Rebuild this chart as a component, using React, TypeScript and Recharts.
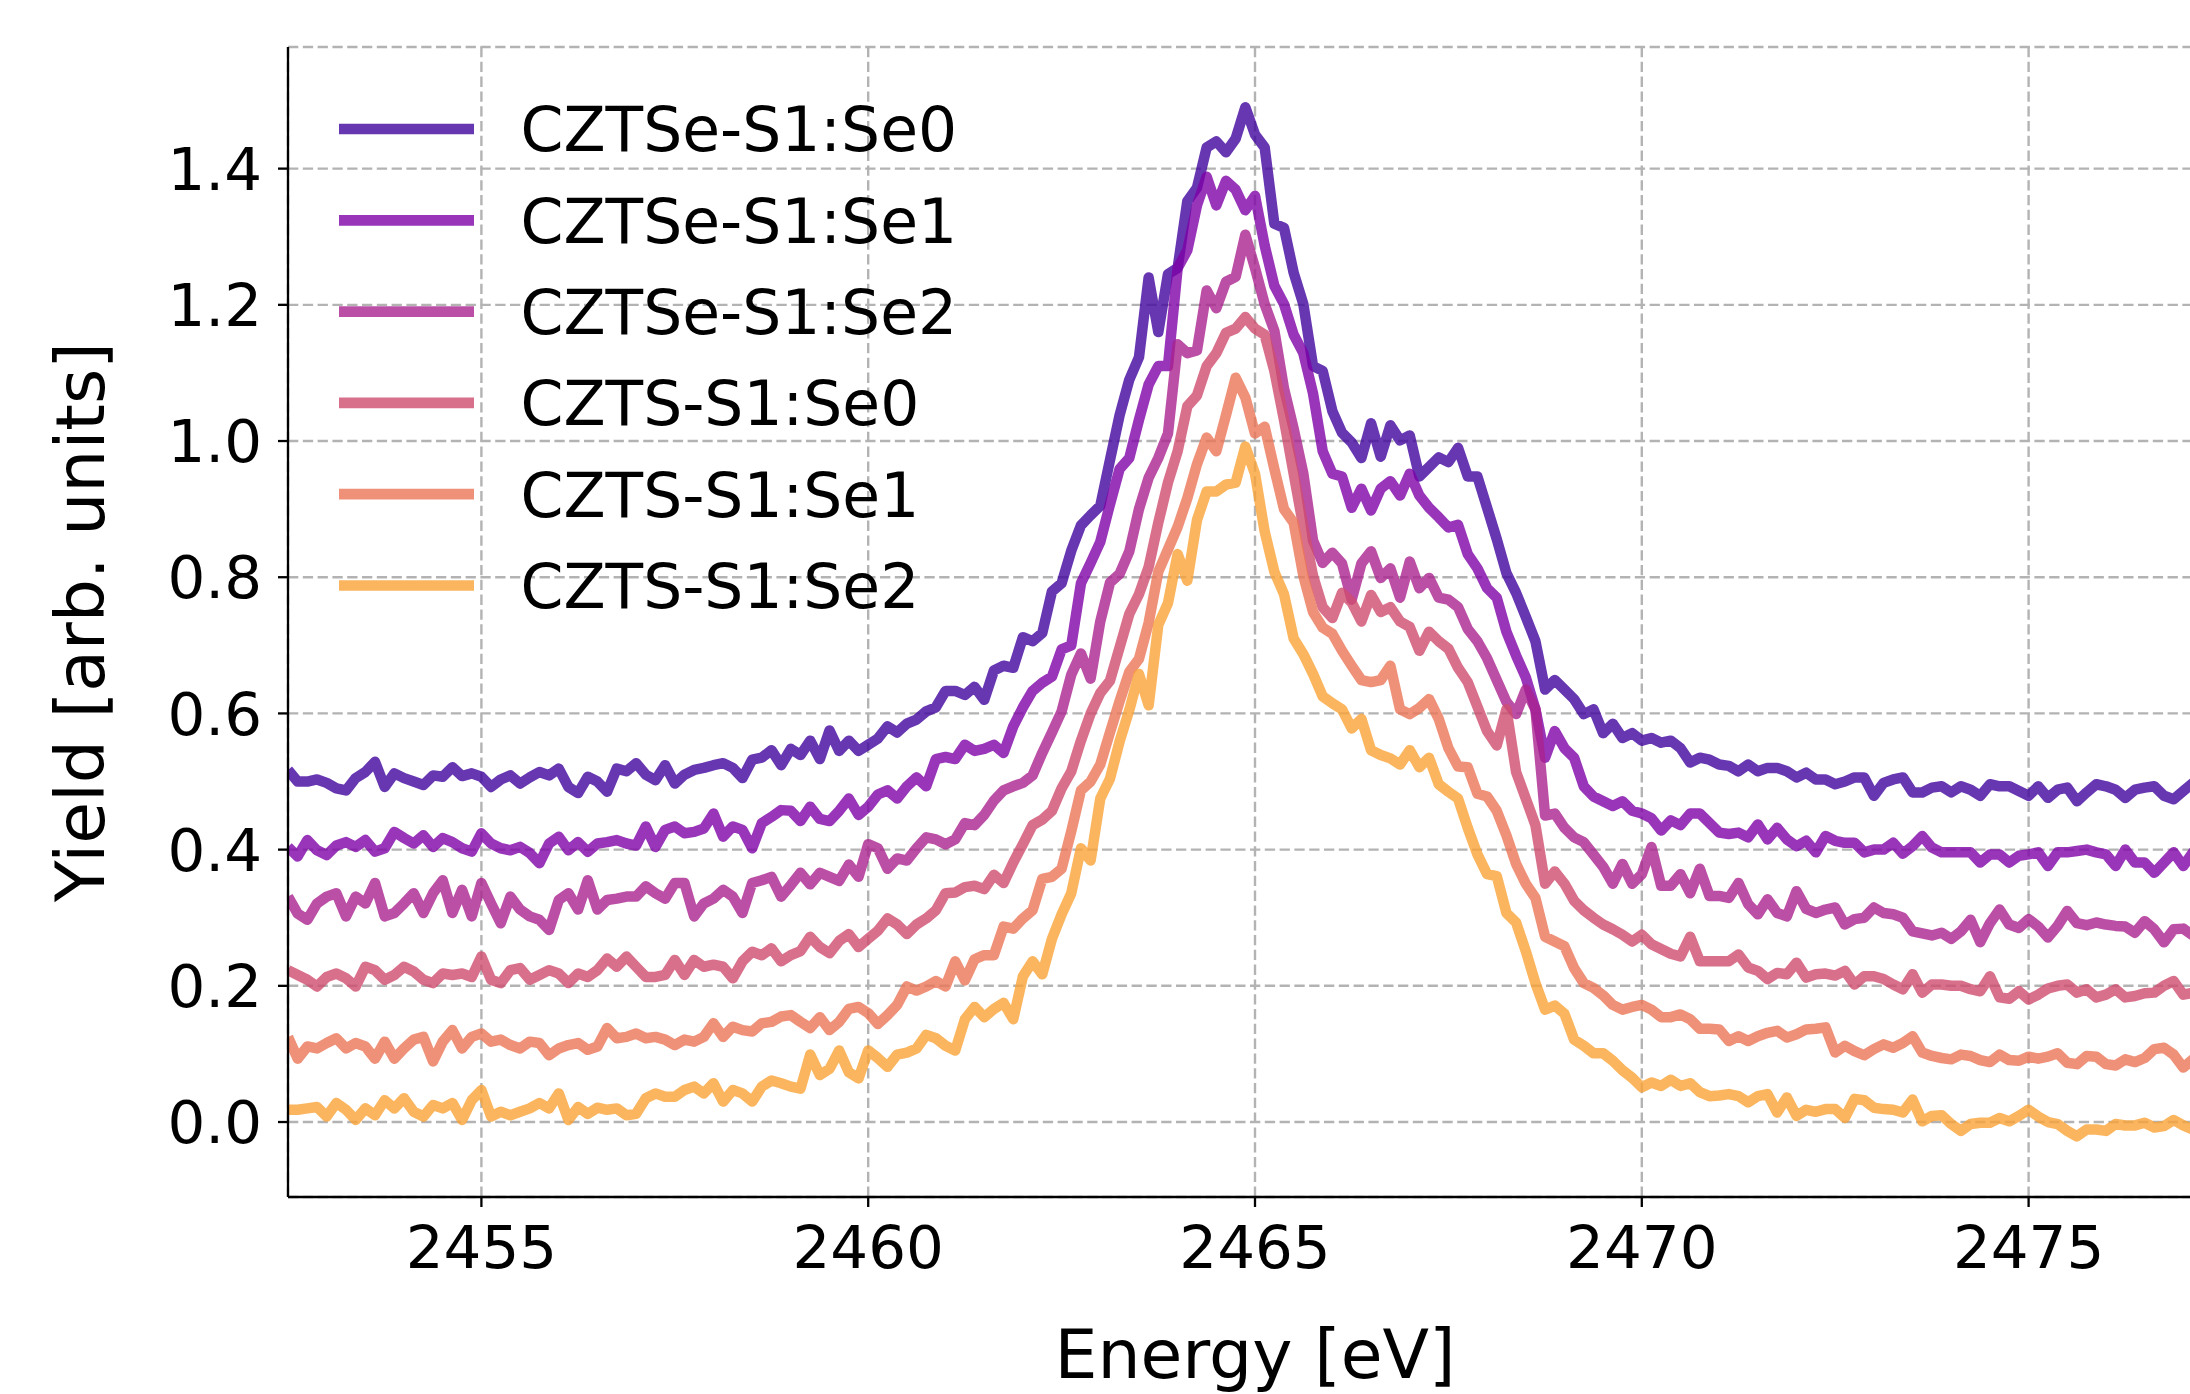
import React from 'react';
import { LineChart, Line, XAxis, YAxis, CartesianGrid, Legend, Label } from 'recharts';

const ENERGY = [
  2452.5, 2452.625, 2452.75, 2452.875, 2453, 2453.125, 2453.25, 2453.375, 2453.5, 2453.625,
  2453.75, 2453.875, 2454, 2454.125, 2454.25, 2454.375, 2454.5, 2454.625, 2454.75, 2454.875,
  2455, 2455.125, 2455.25, 2455.375, 2455.5, 2455.625, 2455.75, 2455.875, 2456, 2456.125,
  2456.25, 2456.375, 2456.5, 2456.625, 2456.75, 2456.875, 2457, 2457.125, 2457.25, 2457.375,
  2457.5, 2457.625, 2457.75, 2457.875, 2458, 2458.125, 2458.25, 2458.375, 2458.5, 2458.625,
  2458.75, 2458.875, 2459, 2459.125, 2459.25, 2459.375, 2459.5, 2459.625, 2459.75, 2459.875,
  2460, 2460.125, 2460.25, 2460.375, 2460.5, 2460.625, 2460.75, 2460.875, 2461, 2461.125,
  2461.25, 2461.375, 2461.5, 2461.625, 2461.75, 2461.875, 2462, 2462.125, 2462.25, 2462.375,
  2462.5, 2462.625, 2462.75, 2462.875, 2463, 2463.125, 2463.25, 2463.375, 2463.5, 2463.625,
  2463.75, 2463.875, 2464, 2464.125, 2464.25, 2464.375, 2464.5, 2464.625, 2464.75, 2464.875,
  2465, 2465.125, 2465.25, 2465.375, 2465.5, 2465.625, 2465.75, 2465.875, 2466, 2466.125,
  2466.25, 2466.375, 2466.5, 2466.625, 2466.75, 2466.875, 2467, 2467.125, 2467.25, 2467.375,
  2467.5, 2467.625, 2467.75, 2467.875, 2468, 2468.125, 2468.25, 2468.375, 2468.5, 2468.625,
  2468.75, 2468.875, 2469, 2469.125, 2469.25, 2469.375, 2469.5, 2469.625, 2469.75, 2469.875,
  2470, 2470.125, 2470.25, 2470.375, 2470.5, 2470.625, 2470.75, 2470.875, 2471, 2471.125,
  2471.25, 2471.375, 2471.5, 2471.625, 2471.75, 2471.875, 2472, 2472.125, 2472.25, 2472.375,
  2472.5, 2472.625, 2472.75, 2472.875, 2473, 2473.125, 2473.25, 2473.375, 2473.5, 2473.625,
  2473.75, 2473.875, 2474, 2474.125, 2474.25, 2474.375, 2474.5, 2474.625, 2474.75, 2474.875,
  2475, 2475.125, 2475.25, 2475.375, 2475.5, 2475.625, 2475.75, 2475.875, 2476, 2476.125,
  2476.25, 2476.375, 2476.5, 2476.625, 2476.75, 2476.875, 2477, 2477.125, 2477.25, 2477.375,
  2477.5,
];

const CZTSE_SE0 = [
  0.517, 0.500, 0.500, 0.503, 0.498, 0.490, 0.487, 0.505, 0.514, 0.529,
  0.492, 0.512, 0.505, 0.500, 0.495, 0.509, 0.507, 0.521, 0.508, 0.512,
  0.507, 0.492, 0.503, 0.509, 0.497, 0.506, 0.514, 0.509, 0.519, 0.492,
  0.483, 0.507, 0.500, 0.485, 0.519, 0.515, 0.527, 0.510, 0.502, 0.524,
  0.497, 0.510, 0.517, 0.520, 0.524, 0.527, 0.520, 0.505, 0.532, 0.535,
  0.546, 0.524, 0.548, 0.539, 0.560, 0.533, 0.575, 0.545, 0.560, 0.545,
  0.554, 0.563, 0.581, 0.572, 0.585, 0.591, 0.603, 0.609, 0.633, 0.633,
  0.627, 0.639, 0.620, 0.663, 0.670, 0.667, 0.712, 0.706, 0.718, 0.779,
  0.791, 0.839, 0.876, 0.891, 0.905, 0.972, 1.038, 1.090, 1.123, 1.240,
  1.160, 1.245, 1.254, 1.352, 1.372, 1.431, 1.440, 1.424, 1.444, 1.490,
  1.450, 1.431, 1.319, 1.313, 1.247, 1.201, 1.110, 1.103, 1.044, 1.012,
  0.998, 0.975, 1.026, 0.977, 1.023, 1.001, 1.008, 0.948, 0.962, 0.976,
  0.969, 0.990, 0.948, 0.948, 0.902, 0.856, 0.806, 0.777, 0.742, 0.706,
  0.635, 0.649, 0.635, 0.621, 0.599, 0.606, 0.571, 0.585, 0.564, 0.571,
  0.560, 0.564, 0.557, 0.560, 0.549, 0.528, 0.535, 0.532, 0.525, 0.523,
  0.515, 0.525, 0.515, 0.520, 0.520, 0.515, 0.506, 0.513, 0.503, 0.503,
  0.496, 0.500, 0.506, 0.506, 0.479, 0.498, 0.503, 0.506, 0.484, 0.484,
  0.491, 0.493, 0.484, 0.493, 0.488, 0.479, 0.496, 0.493, 0.493, 0.486,
  0.479, 0.493, 0.476, 0.488, 0.491, 0.471, 0.484, 0.496, 0.493, 0.488,
  0.476, 0.488, 0.491, 0.493, 0.479, 0.474, 0.486, 0.498, 0.490, 0.485,
  0.490,
];

const CZTSE_SE1 = [
  0.404, 0.390, 0.414, 0.399, 0.392, 0.406, 0.411, 0.404, 0.414, 0.397,
  0.402, 0.426, 0.417, 0.409, 0.421, 0.404, 0.417, 0.411, 0.402, 0.397,
  0.424, 0.409, 0.402, 0.399, 0.404, 0.395, 0.380, 0.409, 0.419, 0.399,
  0.411, 0.397, 0.409, 0.411, 0.414, 0.409, 0.406, 0.434, 0.404, 0.429,
  0.434, 0.424, 0.426, 0.431, 0.453, 0.419, 0.434, 0.429, 0.402, 0.439,
  0.448, 0.458, 0.457, 0.442, 0.463, 0.445, 0.442, 0.457, 0.475, 0.451,
  0.463, 0.481, 0.487, 0.475, 0.493, 0.506, 0.493, 0.533, 0.536, 0.533,
  0.554, 0.545, 0.548, 0.554, 0.542, 0.581, 0.609, 0.633, 0.645, 0.654,
  0.694, 0.700, 0.791, 0.821, 0.852, 0.907, 0.959, 0.975, 1.031, 1.083,
  1.110, 1.110, 1.254, 1.280, 1.346, 1.388, 1.346, 1.382, 1.369, 1.339,
  1.360, 1.287, 1.228, 1.201, 1.156, 1.129, 1.070, 0.985, 0.952, 0.948,
  0.902, 0.930, 0.898, 0.930, 0.941, 0.920, 0.952, 0.920, 0.902, 0.888,
  0.873, 0.877, 0.834, 0.813, 0.784, 0.770, 0.720, 0.685, 0.653, 0.606,
  0.535, 0.574, 0.549, 0.535, 0.493, 0.478, 0.471, 0.464, 0.471, 0.457,
  0.453, 0.446, 0.428, 0.443, 0.436, 0.453, 0.453, 0.439, 0.425, 0.423,
  0.425, 0.418, 0.437, 0.415, 0.432, 0.415, 0.405, 0.413, 0.396, 0.420,
  0.413, 0.410, 0.410, 0.396, 0.400, 0.400, 0.410, 0.394, 0.405, 0.420,
  0.403, 0.396, 0.396, 0.396, 0.396, 0.381, 0.393, 0.393, 0.381, 0.391,
  0.393, 0.396, 0.376, 0.396, 0.396, 0.398, 0.400, 0.396, 0.393, 0.376,
  0.400, 0.381, 0.381, 0.366, 0.381, 0.396, 0.376, 0.396, 0.390, 0.385,
  0.390,
];

const CZTSE_SE2 = [
  0.331, 0.306, 0.297, 0.321, 0.331, 0.336, 0.302, 0.331, 0.321, 0.351,
  0.302, 0.307, 0.321, 0.336, 0.307, 0.336, 0.355, 0.307, 0.341, 0.302,
  0.351, 0.321, 0.292, 0.331, 0.312, 0.302, 0.297, 0.282, 0.326, 0.336,
  0.312, 0.355, 0.312, 0.326, 0.328, 0.331, 0.331, 0.346, 0.336, 0.328,
  0.351, 0.351, 0.302, 0.321, 0.328, 0.341, 0.331, 0.307, 0.351, 0.355,
  0.360, 0.331, 0.348, 0.366, 0.349, 0.366, 0.360, 0.354, 0.378, 0.360,
  0.408, 0.402, 0.372, 0.387, 0.384, 0.402, 0.418, 0.415, 0.408, 0.415,
  0.439, 0.436, 0.451, 0.472, 0.487, 0.493, 0.498, 0.509, 0.542, 0.572,
  0.603, 0.657, 0.688, 0.651, 0.735, 0.792, 0.805, 0.838, 0.900, 0.946,
  0.975, 1.011, 1.142, 1.129, 1.133, 1.221, 1.195, 1.234, 1.241, 1.303,
  1.254, 1.201, 1.162, 1.077, 1.018, 0.952, 0.854, 0.821, 0.836, 0.820,
  0.767, 0.820, 0.838, 0.799, 0.813, 0.770, 0.823, 0.784, 0.799, 0.770,
  0.767, 0.756, 0.724, 0.706, 0.681, 0.649, 0.617, 0.599, 0.635, 0.606,
  0.450, 0.453, 0.432, 0.418, 0.411, 0.393, 0.375, 0.350, 0.379, 0.350,
  0.364, 0.404, 0.347, 0.347, 0.364, 0.336, 0.372, 0.332, 0.332, 0.329,
  0.351, 0.320, 0.305, 0.327, 0.307, 0.302, 0.339, 0.313, 0.307, 0.312,
  0.315, 0.290, 0.298, 0.300, 0.315, 0.307, 0.305, 0.300, 0.280, 0.277,
  0.274, 0.278, 0.269, 0.280, 0.297, 0.264, 0.292, 0.312, 0.290, 0.285,
  0.298, 0.287, 0.271, 0.288, 0.310, 0.292, 0.289, 0.293, 0.290, 0.288,
  0.287, 0.278, 0.295, 0.283, 0.264, 0.283, 0.284, 0.274, 0.280, 0.285,
  0.280,
];

const CZTS_SE0 = [
  0.223, 0.216, 0.209, 0.199, 0.213, 0.218, 0.211, 0.199, 0.228, 0.223,
  0.209, 0.216, 0.228, 0.221, 0.209, 0.204, 0.218, 0.216, 0.218, 0.213,
  0.243, 0.209, 0.204, 0.223, 0.226, 0.209, 0.216, 0.223, 0.218, 0.204,
  0.218, 0.213, 0.223, 0.240, 0.228, 0.243, 0.228, 0.213, 0.213, 0.216,
  0.238, 0.216, 0.238, 0.228, 0.231, 0.228, 0.211, 0.236, 0.250, 0.245,
  0.255, 0.236, 0.245, 0.251, 0.272, 0.257, 0.248, 0.266, 0.276, 0.257,
  0.269, 0.281, 0.299, 0.290, 0.276, 0.290, 0.299, 0.311, 0.336, 0.337,
  0.345, 0.347, 0.342, 0.363, 0.351, 0.381, 0.408, 0.436, 0.444, 0.457,
  0.490, 0.515, 0.560, 0.600, 0.630, 0.648, 0.697, 0.746, 0.775, 0.815,
  0.880, 0.939, 0.985, 1.051, 1.067, 1.110, 1.129, 1.159, 1.165, 1.182,
  1.165, 1.156, 1.103, 1.031, 0.952, 0.874, 0.802, 0.756, 0.740, 0.777,
  0.763, 0.735, 0.774, 0.749, 0.756, 0.735, 0.727, 0.692, 0.720, 0.706,
  0.695, 0.667, 0.646, 0.610, 0.574, 0.553, 0.606, 0.514, 0.475, 0.436,
  0.350, 0.368, 0.350, 0.325, 0.311, 0.300, 0.290, 0.283, 0.275, 0.265,
  0.275, 0.261, 0.254, 0.247, 0.243, 0.272, 0.236, 0.236, 0.236, 0.236,
  0.246, 0.227, 0.222, 0.210, 0.219, 0.217, 0.234, 0.212, 0.217, 0.218,
  0.215, 0.222, 0.202, 0.214, 0.214, 0.210, 0.202, 0.195, 0.217, 0.190,
  0.202, 0.202, 0.200, 0.200, 0.195, 0.192, 0.214, 0.183, 0.181, 0.192,
  0.180, 0.187, 0.196, 0.200, 0.202, 0.190, 0.195, 0.183, 0.187, 0.195,
  0.183, 0.185, 0.189, 0.190, 0.200, 0.207, 0.187, 0.190, 0.190, 0.195,
  0.190,
];

const CZTS_SE1 = [
  0.125, 0.093, 0.111, 0.108, 0.116, 0.123, 0.108, 0.116, 0.111, 0.093,
  0.118, 0.093, 0.108, 0.121, 0.125, 0.089, 0.118, 0.135, 0.108, 0.125,
  0.130, 0.118, 0.121, 0.113, 0.108, 0.118, 0.116, 0.098, 0.108, 0.113,
  0.116, 0.106, 0.111, 0.138, 0.123, 0.125, 0.130, 0.123, 0.125, 0.121,
  0.113, 0.121, 0.118, 0.125, 0.145, 0.125, 0.140, 0.135, 0.133, 0.145,
  0.147, 0.155, 0.157, 0.147, 0.138, 0.154, 0.135, 0.147, 0.166, 0.169,
  0.160, 0.144, 0.157, 0.172, 0.199, 0.193, 0.199, 0.207, 0.199, 0.236,
  0.208, 0.239, 0.245, 0.245, 0.287, 0.284, 0.299, 0.311, 0.357, 0.360,
  0.372, 0.427, 0.487, 0.500, 0.525, 0.572, 0.618, 0.661, 0.680, 0.733,
  0.808, 0.841, 0.874, 0.916, 0.966, 1.005, 0.985, 1.038, 1.093, 1.064,
  1.011, 1.021, 0.959, 0.900, 0.880, 0.802, 0.749, 0.726, 0.717, 0.692,
  0.670, 0.649, 0.646, 0.649, 0.670, 0.606, 0.599, 0.608, 0.621, 0.592,
  0.549, 0.522, 0.521, 0.482, 0.478, 0.457, 0.421, 0.379, 0.350, 0.329,
  0.272, 0.265, 0.258, 0.226, 0.204, 0.197, 0.186, 0.172, 0.165, 0.169,
  0.172, 0.165, 0.154, 0.154, 0.158, 0.151, 0.137, 0.137, 0.136, 0.119,
  0.126, 0.119, 0.126, 0.131, 0.134, 0.124, 0.129, 0.136, 0.137, 0.139,
  0.102, 0.112, 0.104, 0.098, 0.107, 0.114, 0.109, 0.116, 0.126, 0.102,
  0.097, 0.094, 0.092, 0.099, 0.097, 0.091, 0.088, 0.099, 0.091, 0.090,
  0.096, 0.093, 0.096, 0.101, 0.087, 0.085, 0.097, 0.096, 0.085, 0.083,
  0.092, 0.088, 0.094, 0.107, 0.109, 0.099, 0.080, 0.092, 0.090, 0.095,
  0.090,
];

const CZTS_SE2 = [
  0.018, 0.018, 0.020, 0.022, 0.008, 0.028, 0.018, 0.003, 0.020, 0.010,
  0.032, 0.020, 0.035, 0.015, 0.008, 0.025, 0.020, 0.028, 0.003, 0.032,
  0.047, 0.008, 0.015, 0.010, 0.015, 0.020, 0.028, 0.020, 0.042, 0.003,
  0.022, 0.012, 0.021, 0.018, 0.020, 0.010, 0.012, 0.035, 0.042, 0.037,
  0.037, 0.047, 0.052, 0.042, 0.057, 0.030, 0.047, 0.042, 0.030, 0.052,
  0.061, 0.057, 0.052, 0.049, 0.099, 0.069, 0.078, 0.105, 0.073, 0.064,
  0.105, 0.094, 0.081, 0.099, 0.102, 0.108, 0.128, 0.123, 0.112, 0.105,
  0.151, 0.169, 0.154, 0.166, 0.175, 0.151, 0.214, 0.236, 0.217, 0.269,
  0.305, 0.336, 0.402, 0.384, 0.475, 0.504, 0.559, 0.605, 0.658, 0.612,
  0.730, 0.762, 0.834, 0.795, 0.884, 0.926, 0.926, 0.936, 0.939, 0.992,
  0.952, 0.867, 0.808, 0.775, 0.710, 0.687, 0.658, 0.625, 0.615, 0.606,
  0.578, 0.592, 0.546, 0.539, 0.534, 0.525, 0.546, 0.521, 0.535, 0.496,
  0.485, 0.475, 0.432, 0.393, 0.364, 0.361, 0.307, 0.293, 0.251, 0.204,
  0.165, 0.171, 0.159, 0.121, 0.112, 0.101, 0.101, 0.090, 0.076, 0.065,
  0.051, 0.058, 0.053, 0.062, 0.053, 0.057, 0.044, 0.038, 0.039, 0.041,
  0.038, 0.029, 0.038, 0.041, 0.014, 0.036, 0.009, 0.018, 0.015, 0.019,
  0.019, 0.006, 0.034, 0.032, 0.021, 0.019, 0.018, 0.014, 0.033, 0.001,
  0.009, 0.010, -0.003, -0.013, -0.003, -0.001, -0.001, 0.006, 0.001, 0.009,
  0.018, 0.008, 0.000, -0.003, -0.013, -0.021, -0.011, -0.011, -0.013, -0.003,
  -0.005, -0.005, -0.001, -0.008, -0.006, 0.003, -0.005, -0.011, -0.008, -0.005,
  -0.010,
];

const SERIES_NAMES = ['CZTSe-S1:Se0', 'CZTSe-S1:Se1', 'CZTSe-S1:Se2', 'CZTS-S1:Se0', 'CZTS-S1:Se1', 'CZTS-S1:Se2'];
const SERIES_KEYS = ['cztseSe0', 'cztseSe1', 'cztseSe2', 'cztsSe0', 'cztsSe1', 'cztsSe2'];
const SERIES_COLORS = ['#41049d', '#7e03a8', '#aa238e', '#cf4c6e', '#eb7656', '#f9a336'];
const SERIES_VALUES = [CZTSE_SE0, CZTSE_SE1, CZTSE_SE2, CZTS_SE0, CZTS_SE1, CZTS_SE2];

const X_TICKS = [2455, 2460, 2465, 2470, 2475];
const Y_TICKS = [0, 0.2, 0.4, 0.6, 0.8, 1.0, 1.2, 1.4];
const X_DOMAIN: [number, number] = [2452.5, 2477.5];
const Y_DOMAIN: [number, number] = [-0.1101, 1.5786];

const ROWS = ENERGY.map((e, i) => {
  const row: Record<string, number> = { energy: e };
  SERIES_KEYS.forEach((k, j) => {
    row[k] = SERIES_VALUES[j][i];
  });
  return row;
});

const FONT = '"DejaVu Sans", Verdana, sans-serif';
const CHART_W = 2240;
const CHART_H = 1394;
const MARGIN = { top: 47, right: 18, bottom: 0, left: 0 };
const Y_AXIS_W = 288;
const X_AXIS_H = 197;
const PLOT_LEFT = MARGIN.left + Y_AXIS_W;
const PLOT_RIGHT = CHART_W - MARGIN.right;
const PLOT_TOP = MARGIN.top;
const PLOT_BOTTOM = CHART_H - X_AXIS_H;

const LegendBox = () => (
  <svg width={1000} height={700} style={{ display: 'block' }}>
    {SERIES_NAMES.map((name, i) => {
      const cy = 129 + i * 91.3;
      return (
        <g key={name}>
          <line x1={339} x2={474} y1={cy} y2={cy} stroke={SERIES_COLORS[i]} strokeOpacity={0.8} strokeWidth={10.7} />
          <text x={520.5} y={cy + 22.4} fontSize={61.5} fontFamily={FONT} fill="#000">
            {name}
          </text>
        </g>
      );
    })}
  </svg>
);

const XLabel = () => (
  <text x={(PLOT_LEFT + PLOT_RIGHT) / 2} y={1378} textAnchor="middle" fontSize={68} fontFamily={FONT} fill="#000">
    Energy [eV]
  </text>
);

const YLabel = () => {
  const cx = 104.3;
  const cy = (PLOT_TOP + PLOT_BOTTOM) / 2;
  return (
    <text
      x={cx}
      y={cy}
      transform={`rotate(-90, ${cx}, ${cy})`}
      textAnchor="middle"
      fontSize={68}
      fontFamily={FONT}
      fill="#000"
    >
      Yield [arb. units]
    </text>
  );
};

const AXIS_STROKE = { stroke: '#000', strokeWidth: 2.3 };
const TICK_STYLE = { fontSize: 59.5, fill: '#000', fontFamily: FONT };

export default function App() {
  return (
    <div
      style={{
        position: 'absolute',
        left: 0,
        top: 0,
        width: 2190,
        height: 1394,
        overflow: 'hidden',
        background: '#fff',
        fontFamily: FONT,
      }}
    >
      <LineChart width={CHART_W} height={CHART_H} data={ROWS} margin={MARGIN} style={{ fontFamily: FONT }}>
        <CartesianGrid stroke="#b3b3b3" strokeDasharray="10.3 4.5" strokeWidth={2.4} />
        <XAxis
          dataKey="energy"
          type="number"
          domain={X_DOMAIN}
          ticks={X_TICKS}
          allowDataOverflow
          height={X_AXIS_H}
          tick={TICK_STYLE}
          tickSize={10}
          tickMargin={19}
          tickLine={AXIS_STROKE}
          axisLine={AXIS_STROKE}
          interval={0}
        >
          <Label content={XLabel} />
        </XAxis>
        <XAxis
          xAxisId="top"
          orientation="top"
          dataKey="energy"
          type="number"
          domain={X_DOMAIN}
          allowDataOverflow
          height={0}
          tick={false}
          tickLine={false}
          axisLine={AXIS_STROKE}
        />
        <YAxis
          type="number"
          domain={Y_DOMAIN}
          ticks={Y_TICKS}
          allowDataOverflow
          width={Y_AXIS_W}
          tick={TICK_STYLE}
          tickSize={10}
          tickMargin={16}
          tickLine={AXIS_STROKE}
          axisLine={AXIS_STROKE}
          tickFormatter={(v: number) => v.toFixed(1)}
          interval={0}
        >
          <Label content={YLabel} />
        </YAxis>
        {SERIES_KEYS.map((k, i) => (
          <Line
            key={k}
            dataKey={k}
            name={SERIES_NAMES[i]}
            type="linear"
            stroke={SERIES_COLORS[i]}
            strokeOpacity={0.8}
            strokeWidth={10.5}
            strokeLinejoin="round"
            dot={false}
            activeDot={false}
            isAnimationActive={false}
          />
        ))}
        <Legend
          layout="vertical"
          align="center"
          verticalAlign="middle"
          content={() => <LegendBox />}
          wrapperStyle={{ position: 'absolute', left: 0, top: 0, width: 1000, height: 700, pointerEvents: 'none' }}
        />
      </LineChart>
    </div>
  );
}
